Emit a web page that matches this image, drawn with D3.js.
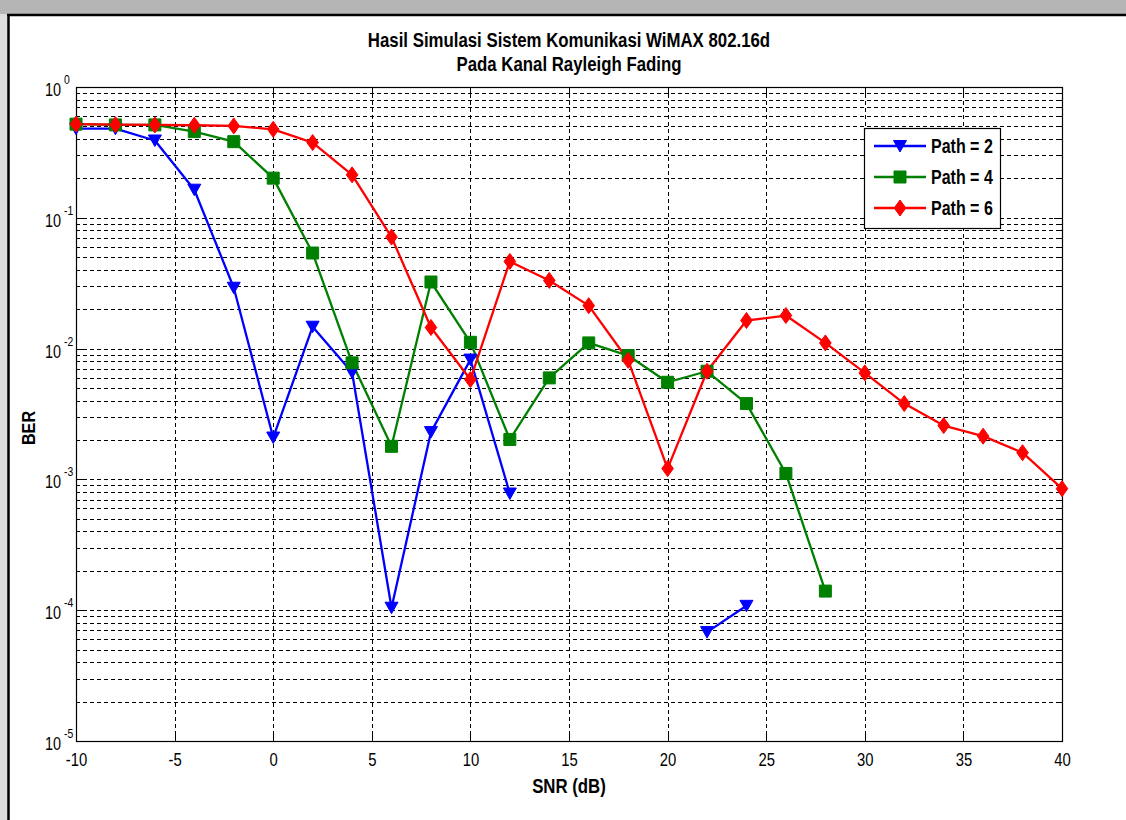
<!DOCTYPE html>
<html>
<head>
<meta charset="utf-8">
<script src="https://cdn.jsdelivr.net/npm/d3@7"></script>
<style>
  html, body { margin: 0; padding: 0; background: #fff; }
  svg { display: block; }
  .narrow { font-family: "Liberation Sans Narrow", "Arial Narrow", "Liberation Sans", sans-serif; }
</style>
</head>
<body>
<svg id="chart" width="1126" height="820"></svg>
<script>
// SNR sweep (dB) and measured bit error rate for each multipath setting
const snr = [-10, -8, -6, -4, -2, 0, 2, 4, 6, 8, 10, 12, 14, 16, 18, 20, 22, 24, 26, 28, 30, 32, 34, 36, 38, 40];

const berPath2 = [0.48, 0.48, 0.39, 0.164, 0.0292, 0.00209, 0.0147, 0.00656, 1.045e-4, 0.0023, 0.00824, 7.8e-4,
                  null, null, null, null, 6.8e-5, 1.08e-4, null, null, null, null, null, null, null, null];
const berPath4 = [0.52, 0.513, 0.513, 0.456, 0.382, 0.201, 0.0538, 0.00778, 0.00179, 0.0323, 0.01117, 0.00202,
                  0.00597, 0.01105, 0.00885, 0.00553, 0.00671, 0.0038, 0.00111, 1.40e-4, null, null, null, null, null, null];
const berPath6 = [0.52, 0.515, 0.513, 0.51, 0.504, 0.475, 0.376, 0.213, 0.0712, 0.0145, 0.0058, 0.0464,
                  0.0332, 0.0213, 0.00814, 0.00121, 0.00671, 0.0164, 0.0179, 0.01105, 0.00652, 0.0038, 0.00258, 0.00214, 0.0016, 8.5e-4];

const seriesNames = ["Path = 2", "Path = 4", "Path = 6"];
const xTickValues = [-10, -5, 0, 5, 10, 15, 20, 25, 30, 35, 40];
const yDecadeExponents = [0, -1, -2, -3, -4, -5];

const titleLines = ["Hasil Simulasi Sistem Komunikasi WiMAX 802.16d", "Pada Kanal Rayleigh Fading"];
const xLabel = "SNR (dB)";
const yLabel = "BER";

const series = [
  { name: seriesNames[0], values: berPath2, color: "#0000ff", marker: "triangleDown" },
  { name: seriesNames[1], values: berPath4, color: "#008000", marker: "square" },
  { name: seriesNames[2], values: berPath6, color: "#ff0000", marker: "diamond" }
];

const svg = d3.select("#chart");
const W = 1126, H = 820;
const plot = { left: 76, right: 1062, top: 87, bottom: 741 };

// Squeeze glyphs horizontally to get a condensed face from the regular one
function condense(sel, factor) {
  sel.each(function () {
    const len = this.getComputedTextLength();
    d3.select(this).attr("textLength", len * factor).attr("lengthAdjust", "spacingAndGlyphs");
  });
  return sel;
}

// Figure backdrop: grey strip above and left of the white figure panel
svg.append("rect").attr("x", 0).attr("y", 0).attr("width", W).attr("height", H).attr("fill", "#ffffff");
svg.append("rect").attr("x", 0).attr("y", 0).attr("width", W).attr("height", 14).attr("fill", "#b5b5b5");
svg.append("rect").attr("x", 0).attr("y", 14).attr("width", 8).attr("height", H - 14).attr("fill", "#dedede");
svg.append("line").attr("x1", 7).attr("x2", W).attr("y1", 15).attr("y2", 15).attr("stroke", "#000").attr("stroke-width", 2.5);
svg.append("line").attr("x1", 8.5).attr("x2", 8.5).attr("y1", 14).attr("y2", H).attr("stroke", "#000").attr("stroke-width", 2.5);

const x = d3.scaleLinear().domain([-10, 40]).range([plot.left, plot.right]);
const y = d3.scaleLog().domain([1e-5, 1]).range([plot.bottom, plot.top]);

const g = svg.append("g");

// Grid: every log tick horizontally, every x tick vertically, dashed
const yTicksAll = y.ticks();
g.append("g").selectAll("line").data(yTicksAll.filter(v => v > 1e-5 && v < 1)).join("line")
  .attr("x1", plot.left).attr("x2", plot.right)
  .attr("y1", d => Math.round(y(d)) + 0.5).attr("y2", d => Math.round(y(d)) + 0.5)
  .attr("stroke", "#000").attr("stroke-width", 1).attr("stroke-dasharray", "4,3");
g.append("g").selectAll("line").data(xTickValues.filter(v => v > -10 && v < 40)).join("line")
  .attr("x1", d => Math.round(x(d)) + 0.5).attr("x2", d => Math.round(x(d)) + 0.5)
  .attr("y1", plot.top).attr("y2", plot.bottom)
  .attr("stroke", "#000").attr("stroke-width", 1).attr("stroke-dasharray", "4,3");

// Tick marks drawn inward on all four sides
const isDecade = v => Math.abs(Math.log10(v) - Math.round(Math.log10(v))) < 1e-9;
const tickG = g.append("g").attr("stroke", "#000").attr("stroke-width", 1);
yTicksAll.forEach(v => {
  const yy = Math.round(y(v)) + 0.5;
  const len = isDecade(v) ? 8 : 4;
  tickG.append("line").attr("x1", plot.left).attr("x2", plot.left + len).attr("y1", yy).attr("y2", yy);
  tickG.append("line").attr("x1", plot.right - len).attr("x2", plot.right).attr("y1", yy).attr("y2", yy);
});
xTickValues.forEach(v => {
  const xx = Math.round(x(v)) + 0.5;
  tickG.append("line").attr("x1", xx).attr("x2", xx).attr("y1", plot.bottom).attr("y2", plot.bottom - 8);
  tickG.append("line").attr("x1", xx).attr("x2", xx).attr("y1", plot.top).attr("y2", plot.top + 8);
});

// Axes box
g.append("rect").attr("x", plot.left + 0.5).attr("y", plot.top + 0.5)
  .attr("width", plot.right - plot.left).attr("height", plot.bottom - plot.top)
  .attr("fill", "none").attr("stroke", "#000").attr("stroke-width", 1.2);

// X tick labels via d3 axis (line parts hidden, labels only)
const xAxis = d3.axisBottom(x).tickValues(xTickValues).tickSize(0).tickPadding(0).tickFormat(d3.format("d"));
const xAxisG = svg.append("g").attr("transform", `translate(0,${plot.bottom + 10})`).call(xAxis);
xAxisG.select(".domain").remove();
const xTickText = xAxisG.selectAll("text").attr("class", "narrow").attr("font-size", 19).attr("fill", "#000")
  .attr("dy", "0.78em").text(d => d < 0 ? "-" + Math.abs(d) : String(d));
condense(xTickText, 0.78);

// Y tick labels as 10 with a raised exponent beside it
const yLab = svg.append("g").attr("class", "narrow").attr("fill", "#000");
yDecadeExponents.forEach(e => {
  const t = yLab.append("text").attr("x", 61).attr("y", y(Math.pow(10, e)) + 9)
    .attr("text-anchor", "end").attr("font-size", 19).text("10");
  condense(t, 0.76);
  const s = yLab.append("text").attr("x", 64).attr("y", y(Math.pow(10, e)) - 3)
    .attr("font-size", 13).text(String(e));
  condense(s, 0.8);
});

// Data lines and markers
const line = d3.line().defined(d => d[1] != null).x(d => x(d[0])).y(d => y(d[1]));
const markerPath = {
  triangleDown: "M-6.5,-5.5L6.5,-5.5L0,6Z",
  square: "M-6,-6L6,-6L6,6L-6,6Z",
  diamond: "M0,-8L5.8,0L0,8L-5.8,0Z"
};

series.forEach(s => {
  const pts = snr.map((v, i) => [v, s.values[i]]);
  g.append("path").datum(pts).attr("d", line)
    .attr("fill", "none").attr("stroke", s.color).attr("stroke-width", 2.3).attr("stroke-linejoin", "round");
});
series.forEach(s => {
  const pts = snr.map((v, i) => [v, s.values[i]]).filter(d => d[1] != null);
  g.append("g").selectAll("path").data(pts).join("path")
    .attr("transform", d => `translate(${x(d[0])},${y(d[1])})`)
    .attr("d", markerPath[s.marker])
    .attr("fill", s.color).attr("stroke", s.color).attr("stroke-width", 1);
});

// Legend
const leg = { x: 864, y: 128, w: 136, h: 100 };
const legG = svg.append("g");
legG.append("rect").attr("x", leg.x + 0.5).attr("y", leg.y + 0.5).attr("width", leg.w).attr("height", leg.h)
  .attr("fill", "#fff").attr("stroke", "#000").attr("stroke-width", 1.2);
series.forEach((s, i) => {
  const cy = leg.y + 18 + i * 31;
  legG.append("line").attr("x1", leg.x + 10).attr("x2", leg.x + 62).attr("y1", cy).attr("y2", cy)
    .attr("stroke", s.color).attr("stroke-width", 2.3);
  legG.append("path").attr("transform", `translate(${leg.x + 36},${cy})`).attr("d", markerPath[s.marker])
    .attr("fill", s.color).attr("stroke", s.color).attr("stroke-width", 1);
  const t = legG.append("text").attr("class", "narrow").attr("x", leg.x + 67).attr("y", cy + 7)
    .attr("font-size", 20).attr("font-weight", "bold").attr("fill", "#000").text(s.name);
  condense(t, 0.8);
});

// Title and axis labels
const labels = [
  { text: titleLines[0], x: 569, y: 47 },
  { text: titleLines[1], x: 569, y: 71 },
  { text: xLabel, x: 569, y: 793 }
];
labels.forEach(l => {
  const t = svg.append("text").attr("class", "narrow").attr("x", l.x).attr("y", l.y).attr("text-anchor", "middle")
    .attr("font-size", 20).attr("font-weight", "bold").text(l.text);
  condense(t, 0.84);
});
const yl = svg.append("text").attr("class", "narrow").attr("transform", "translate(35,428) rotate(-90)")
  .attr("text-anchor", "middle").attr("font-size", 19).attr("font-weight", "bold").text(yLabel);
condense(yl, 0.85);
</script>
</body>
</html>
